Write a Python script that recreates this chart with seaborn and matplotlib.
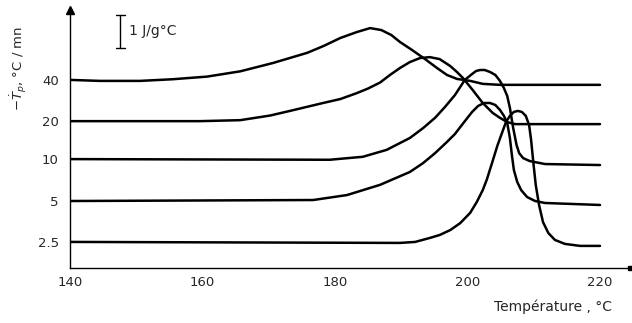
import numpy as np
import pandas as pd
import matplotlib
matplotlib.use("Agg")
import matplotlib.pyplot as plt
import seaborn as sns

# ---- data (temperature in degC, heat-flow signal in J/g°C, curves offset) ----
rates = ["40", "20", "10", "5", "2.5"]
baselines = [5.70, 4.45, 3.30, 2.03, 0.79]

T_40 = [140, 144.5, 150.6, 155.5, 160.7, 165.7, 170.6, 175.8, 178.3, 180.8, 183.3,
        185.3, 187.0, 188.5, 189.8, 191.6, 193.6, 195.4, 196.9, 198.4, 200.4, 202.3,
        204.9, 209.4, 220]
y_40 = [5.70, 5.67, 5.67, 5.72, 5.80, 5.96, 6.21, 6.52, 6.73, 6.97, 7.15,
        7.27, 7.21, 7.06, 6.85, 6.61, 6.33, 6.06, 5.85, 5.73, 5.67, 5.58,
        5.55, 5.55, 5.55]

T_20 = [140, 159.6, 165.7, 170.2, 173.2, 178.2, 180.8, 183.3, 185.0, 186.8, 188.3, 189.8,
        191.3, 192.8, 194.3, 195.8, 197.4, 198.4, 199.3, 200.8, 202.3, 203.8, 204.9,
        206.0, 207.2, 220]
y_20 = [4.45, 4.45, 4.48, 4.62, 4.76, 5.00, 5.12, 5.30, 5.44, 5.62, 5.85, 6.06,
        6.24, 6.36, 6.39, 6.33, 6.12, 5.94, 5.76, 5.39, 5.00, 4.70, 4.55,
        4.42, 4.36, 4.36]

T_10 = [140, 179.2, 184.2, 187.8, 191.3, 193.3, 195.1, 196.6, 198.1, 199.6, 200.7, 201.3,
        201.9, 202.6, 203.4, 204.2, 204.9, 205.5, 206.0, 206.4, 206.9, 207.4, 207.8,
        208.4, 209.4, 211.7, 220]
y_10 = [3.30, 3.28, 3.37, 3.58, 3.94, 4.24, 4.55, 4.88, 5.24, 5.70, 5.88, 5.97,
        6.00, 6.00, 5.94, 5.85, 5.67, 5.45, 5.21, 4.85, 4.24, 3.73, 3.48,
        3.33, 3.24, 3.15, 3.12]

T_5 = [140, 176.7, 181.8, 186.8, 191.3, 193.3, 195.1, 196.9, 198.1, 199.6, 200.7,
       201.6, 202.5, 203.4, 204.2, 204.9, 205.5, 206.0, 206.4, 206.7, 207.0, 207.5,
       208.1, 209.0, 210.2, 211.7, 220]
y_5 = [2.03, 2.06, 2.21, 2.52, 2.91, 3.18, 3.48, 3.82, 4.06, 4.45, 4.73,
       4.91, 5.00, 5.00, 4.94, 4.79, 4.61, 4.39, 3.94, 3.42, 2.97, 2.61,
       2.36, 2.15, 2.03, 1.97, 1.91]

T_25 = [140, 189.8, 192.1, 194.3, 195.8, 197.4, 198.9, 200.4, 201.4, 202.3, 202.9, 203.7,
        204.5, 205.2, 205.8, 206.4, 207.0, 207.6, 208.2, 208.8, 209.3, 209.6, 209.9,
        210.3, 210.8, 211.4, 212.2, 213.2, 214.7, 217.0, 220]
y_25 = [0.79, 0.76, 0.79, 0.91, 1.00, 1.15, 1.36, 1.67, 2.00, 2.36, 2.67, 3.18,
        3.70, 4.09, 4.42, 4.61, 4.73, 4.76, 4.73, 4.61, 4.33, 3.88, 3.27,
        2.52, 1.91, 1.39, 1.06, 0.85, 0.73, 0.67, 0.67]

x_ticks = [140, 160, 180, 200, 220]
x_ticklabels = ["140", "160", "180", "200", "220"]

frames = []
for r, T, y in zip(rates, [T_40, T_20, T_10, T_5, T_25], [y_40, y_20, y_10, y_5, y_25]):
    frames.append(pd.DataFrame({"T": T, "y": y, "rate": r}))
df = pd.concat(frames, ignore_index=True)

# ---- figure ----
sns.set_style("white")
plt.rcParams["font.family"] = ["DejaVu Sans"]

fig = plt.figure(figsize=(6.32, 3.23), dpi=100)
ax = fig.add_axes([70 / 632, 55 / 323, 560 / 632, 258 / 323])

sns.lineplot(data=df, x="T", y="y", units="rate", estimator=None, sort=False,
             color="black", linewidth=1.8, ax=ax, legend=False)

ax.set_xlim(140, 140 + 560 / 6.625)
ax.set_ylim(0, 258 / 33)

for s in ["top", "right"]:
    ax.spines[s].set_visible(False)
for s in ["left", "bottom"]:
    ax.spines[s].set_color("black")
    ax.spines[s].set_linewidth(1.0)

ax.set_xticks(x_ticks)
ax.set_xticklabels(x_ticklabels, fontsize=9.5)
ax.tick_params(axis="x", direction="in", length=11, width=1.0, color="black", pad=6)
ax.set_yticks(baselines)
ax.set_yticklabels(rates, fontsize=9.5)
ax.tick_params(axis="y", length=0, pad=8)

ax.set_xlabel("Température , °C", fontsize=10)
ax.xaxis.set_label_coords((612 - 70) / 560, -(299 - 268) / 258)
ax.xaxis.label.set_horizontalalignment("right")
ax.set_ylabel(r"$-\dot{T}_p$, °C / mn", fontsize=9.5)
ax.yaxis.set_label_coords(-(70 - 29) / 560, (268 - 68) / 258)

# axis arrows
ax.plot(0, 1, marker="^", color="black", markersize=6, transform=ax.transAxes, clip_on=False)
ax.plot(1, 0, marker="s", color="black", markersize=3, transform=ax.transAxes, clip_on=False)

# scale bar: 1 J/g°C
bar_x = 147.6
bar_top = (268 - 15) / 33
ax.plot([bar_x, bar_x], [bar_top - 1, bar_top], color="black", linewidth=1.0)
ax.plot([bar_x - 0.7, bar_x + 0.7], [bar_top, bar_top], color="black", linewidth=1.0)
ax.plot([bar_x - 0.7, bar_x + 0.7], [bar_top - 1, bar_top - 1], color="black", linewidth=1.0)
ax.text(bar_x + 1.3, bar_top - 0.5, "1 J/g°C", fontsize=10, va="center", ha="left")

ax.set_facecolor("white")
fig.savefig("out.png", dpi=100, facecolor="white")
